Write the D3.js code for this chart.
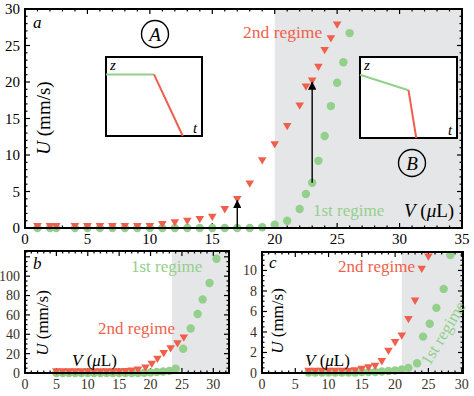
<!DOCTYPE html>
<html lang="en">
<head>
<meta charset="UTF-8">
<title>U vs V regimes</title>
<style>
  body { margin: 0; background: #fff; }
</style>
</head>
<body>
<svg id="chart" width="474" height="396"></svg>
<script src="https://d3js.org/d3.v7.min.js"></script>
<script>
// ---- data ----
// panel a
var aRedV = [1, 2, 2.5, 4, 5, 6, 7, 8, 9, 10, 11, 12, 13, 14, 15, 16, 17, 18, 19, 20, 21, 22, 22.5, 23, 23.5, 24, 24.5, 25];
var aRedU = [0.2, 0.2, 0.2, 0.2, 0.2, 0.2, 0.2, 0.2, 0.2, 0.2, 0.45, 0.7, 0.9, 1.15, 1.45, 2.5, 3.9, 6.0, 9.2, 11.4, 13.9, 16.7, 19.3, 20.1, 22.0, 24.3, 25.9, 27.8];
var aGreenV = [1, 2, 2.5, 4, 5, 6, 7, 8, 9, 10, 11, 12, 13, 14, 15, 16, 17, 18, 19, 20, 21, 22, 22.5, 23, 23.5, 24, 24.5, 25, 25.5, 26];
var aGreenU = [0, 0, 0, 0, 0, 0, 0, 0, 0, 0, 0, 0, 0, 0, 0, 0, 0, 0, 0.1, 0.45, 1.0, 2.6, 4.65, 6.2, 9.2, 12.6, 16.7, 19.9, 22.7, 26.7];
var aArrowV = [17, 23];
// panel b
var bRedV = [5, 6, 7, 8, 9, 10, 11, 12, 13, 14, 15, 16, 17, 18, 19.2, 20.2, 21.1, 22.1, 23.2, 24.3, 25.3];
var bRedU = [1.2, 1.2, 1.2, 1.2, 1.2, 1.2, 1.2, 1.2, 1.2, 1.2, 1.2, 1.3, 2.0, 3.0, 5, 9, 14, 20, 25, 30, 36];
var bGreenV = [5, 6, 7, 8, 9, 10, 11, 12, 13, 14, 15, 16, 17, 18, 19, 20, 21, 22, 23, 24, 25.2, 26.4, 27.5, 28.3, 29.4, 30.5];
var bGreenU = [0, 0, 0, 0, 0, 0, 0, 0, 0, 0, 0, 0, 0, 0, 0.3, 0.5, 1, 1.5, 2.2, 4.4, 25, 46, 61, 76, 93, 118];
// panel c
var cRedV = [7, 8, 9, 10, 11, 12, 13, 14, 15, 16, 17, 18, 19, 20, 21, 22, 23, 24, 25];
var cRedU = [0.15, 0.15, 0.15, 0.15, 0.15, 0.15, 0.15, 0.2, 0.35, 0.5, 0.65, 1.1, 2.1, 2.95, 3.6, 5.2, 7.0, 10.1, 11.3];
var cGreenV = [7, 8, 9, 10, 11, 12, 13, 14, 15, 16, 17, 18, 19, 20, 21, 22, 23.3, 24.2, 25.2, 26.2, 27.3, 28.3];
var cGreenU = [0.05, 0.05, 0.05, 0.05, 0.05, 0.05, 0.05, 0.05, 0.1, 0.1, 0.1, 0.15, 0.2, 0.25, 0.35, 0.5, 0.95, 3.55, 4.8, 6.35, 8.2, 11.5];

var red = "#ef5f4b", green = "#93d08b", shade = "#e5e6e8";
var serif = "'Liberation Serif', 'DejaVu Serif', serif";
var svg = d3.select("#chart");

function zip(xs, ys) { return xs.map(function(v, i) { return [v, ys[i]]; }); }

// triangle pointing down, centred on its box
function tri(s) {
  var h = s * 0.85;
  return "M" + (-s / 2) + "," + (-h / 2) + "L" + (s / 2) + "," + (-h / 2) + "L0," + (h / 2) + "Z";
}

function panel(p) {
  var x = d3.scaleLinear().domain(p.xd).range([p.x0, p.x1]);
  var y = d3.scaleLinear().domain(p.yd).range([p.y0, p.y1]);
  var g = svg.append("g");

  // shaded band
  g.append("rect")
    .attr("x", x(p.shadeFrom)).attr("y", p.y1)
    .attr("width", p.x1 - x(p.shadeFrom)).attr("height", p.y0 - p.y1)
    .attr("fill", shade);

  // inward ticks on all four sides
  var xt = g.append("g").attr("stroke", "#000").attr("stroke-width", 1.2);
  d3.range(p.xd[0], p.xd[1] + 1e-6, p.xMinor).forEach(function(v) {
    var major = Math.abs(v / p.xMajor - Math.round(v / p.xMajor)) < 1e-6;
    var L = major ? 5 : 2.5;
    xt.append("line").attr("x1", x(v)).attr("x2", x(v)).attr("y1", p.y0).attr("y2", p.y0 - L);
    xt.append("line").attr("x1", x(v)).attr("x2", x(v)).attr("y1", p.y1).attr("y2", p.y1 + L);
  });
  d3.range(p.yd[0], p.yd[1] + 1e-6, p.yMinor).forEach(function(v) {
    var major = Math.abs(v / p.yMajor - Math.round(v / p.yMajor)) < 1e-6;
    var L = major ? 5 : 2.5;
    xt.append("line").attr("y1", y(v)).attr("y2", y(v)).attr("x1", p.x0).attr("x2", p.x0 + L);
    xt.append("line").attr("y1", y(v)).attr("y2", y(v)).attr("x1", p.x1).attr("x2", p.x1 - L);
  });

  // tick labels
  d3.range(p.xd[0], p.xd[1] + 1e-6, p.xMajor).forEach(function(v) {
    g.append("text").attr("x", x(v)).attr("y", p.y0 + 5).attr("dy", "0.75em")
      .attr("text-anchor", "middle").style("font-family", serif).style("font-size", p.fs + "px").attr("fill", p.tickColor)
      .text(v);
  });
  p.yLabels.forEach(function(v) {
    g.append("text").attr("x", p.x0 - 5).attr("y", y(v)).attr("dy", "0.35em")
      .attr("text-anchor", "end").style("font-family", serif).style("font-size", p.fs + "px").attr("fill", p.tickColor)
      .text(v);
  });

  // points
  g.append("g").selectAll("circle").data(zip(p.gV, p.gU)).enter().append("circle")
    .attr("cx", function(d) { return x(d[0]); })
    .attr("cy", function(d) { return y(d[1]); })
    .attr("r", 4.2).attr("fill", green);
  g.append("g").selectAll("path").data(zip(p.rV, p.rU)).enter().append("path")
    .attr("d", tri(8.6))
    .attr("transform", function(d) { return "translate(" + x(d[0]) + "," + y(d[1]) + ")"; })
    .attr("fill", red);

  // frame
  g.append("rect").attr("x", p.x0).attr("y", p.y1)
    .attr("width", p.x1 - p.x0).attr("height", p.y0 - p.y1)
    .attr("fill", "none").attr("stroke", "#000").attr("stroke-width", 2);

  return { x: x, y: y, g: g };
}

function label(g, txt, x, y, size, color, italic) {
  return g.append("text").attr("x", x).attr("y", y).attr("dy", "0.35em")
    .style("font-family", serif).style("font-size", size + "px").style("font-style", italic ? "italic" : "normal")
    .attr("fill", color).text(txt);
}

function vLabel(g, x, y, size) {
  var t = g.append("text").attr("x", x).attr("y", y).attr("dy", "0.35em")
    .style("font-family", serif).style("font-size", size + "px");
  t.append("tspan").style("font-style", "italic").text("V");
  t.append("tspan").text(" (");
  t.append("tspan").style("font-style", "italic").text("\u03bc");
  t.append("tspan").text("L)");
}

function uLabel(g, x, y, size) {
  var t = g.append("text").attr("transform", "translate(" + x + "," + y + ") rotate(-90)")
    .attr("text-anchor", "middle").attr("dy", "0.35em")
    .style("font-family", serif).style("font-size", size + "px");
  t.append("tspan").style("font-style", "italic").text("U");
  t.append("tspan").text(" (mm/s)");
}

// ---------- panel a ----------
var A = panel({
  x0: 25, x1: 462, y0: 228, y1: 9,
  xd: [0, 35], yd: [0, 30], xMajor: 5, xMinor: 1, yMajor: 5, yMinor: 1,
  yLabels: [0, 5, 10, 15, 20, 25, 30], fs: 15, tickColor: "#000",
  shadeFrom: 20, rV: aRedV, rU: aRedU, gV: aGreenV, gU: aGreenU
});

// arrows from 1st to 2nd regime
svg.append("defs").append("marker").attr("id", "head")
  .attr("viewBox", "0 0 10 10").attr("refX", 9).attr("refY", 5)
  .attr("markerWidth", 6).attr("markerHeight", 6).attr("orient", "auto")
  .append("path").attr("d", "M0,0L10,5L0,10Z").attr("fill", "#000");
aArrowV.forEach(function(v) {
  var u0 = aGreenU[aGreenV.indexOf(v)], u1 = aRedU[aRedV.indexOf(v)];
  A.g.append("line").attr("x1", A.x(v)).attr("x2", A.x(v))
    .attr("y1", A.y(u0)).attr("y2", A.y(u1) + 1)
    .attr("stroke", "#000").attr("stroke-width", 1.4).attr("marker-end", "url(#head)");
});

label(A.g, "a", 33, 22, 17, "#000", true);
uLabel(A.g, 43, 118, 19);
vLabel(A.g, 404, 210, 19);
label(A.g, "2nd regime", 243, 32, 17.5, red, false);
label(A.g, "1st regime", 313, 210, 17, green, false);

// insets
function inset(x0, y0, w, h, pts) {
  var ig = svg.append("g");
  var P = function(q) { return (x0 + q[0] * w) + "," + (y0 + q[1] * h); };
  ig.append("rect").attr("x", x0).attr("y", y0).attr("width", w).attr("height", h)
    .attr("fill", "#fff").attr("stroke", "#000").attr("stroke-width", 2);
  ig.append("polyline").attr("points", [pts[0], pts[1]].map(P).join(" "))
    .attr("fill", "none").attr("stroke", green).attr("stroke-width", 2);
  ig.append("polyline").attr("points", [pts[1], pts[2]].map(P).join(" "))
    .attr("fill", "none").attr("stroke", red).attr("stroke-width", 2);
  label(ig, "z", x0 + 4, y0 + 8, 15, "#000", true);
  label(ig, "t", x0 + w - 9, y0 + h - 8, 15, "#000", true);
}
inset(106, 57, 96, 79, [[0, 0.22], [0.5, 0.22], [0.8, 1]]);
inset(360, 57, 97, 81, [[0, 0.22], [0.5, 0.41], [0.58, 1]]);

function circled(cx, cy, letter) {
  svg.append("circle").attr("cx", cx).attr("cy", cy).attr("r", 13.5)
    .attr("fill", "none").attr("stroke", "#000").attr("stroke-width", 1.4);
  svg.append("text").attr("x", cx).attr("y", cy).attr("dy", "0.35em").attr("text-anchor", "middle")
    .style("font-family", serif).style("font-size", "19px").style("font-style", "italic").text(letter);
}
circled(155, 34, "A");
circled(412, 163, "B");

// ---------- panel b ----------
var B = panel({
  x0: 25, x1: 229, y0: 373, y1: 251,
  xd: [0, 32.5], yd: [0, 126], xMajor: 5, xMinor: 1, yMajor: 20, yMinor: 5,
  yLabels: [0, 20, 40, 60, 80, 100], fs: 14, tickColor: "#3a3125",
  shadeFrom: 23.4, rV: bRedV, rU: bRedU, gV: bGreenV, gU: bGreenU
});
label(B.g, "b", 33, 263, 17, "#000", true);
uLabel(B.g, 42, 323, 17);
vLabel(B.g, 72, 360, 17);
label(B.g, "2nd regime", 98, 328, 17, red, false);
label(B.g, "1st regime", 131, 266, 17, green, false);

// ---------- panel c ----------
var C = panel({
  x0: 262, x1: 463, y0: 373, y1: 252,
  xd: [0, 30.2], yd: [0, 11.8], xMajor: 5, xMinor: 1, yMajor: 2, yMinor: 0.5,
  yLabels: [0, 2, 4, 6, 8, 10], fs: 14, tickColor: "#3a3125",
  shadeFrom: 21, rV: cRedV, rU: cRedU, gV: cGreenV, gU: cGreenU
});
label(C.g, "c", 269, 262, 17, "#000", true);
uLabel(C.g, 277, 321, 17);
vLabel(C.g, 305, 360, 17);
label(C.g, "2nd regime", 338, 266, 17, red, false);
C.g.append("text").attr("transform", "translate(443,333) rotate(-59)")
  .attr("text-anchor", "middle").attr("dy", "0.35em")
  .style("font-family", serif).style("font-size", "17px")
  .attr("fill", green).text("1st regime");
</script>
</body>
</html>
